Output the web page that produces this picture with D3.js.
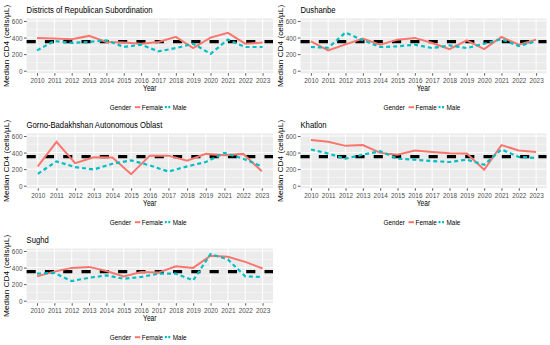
<!DOCTYPE html>
<html>
<head>
<style>
  body { margin: 0; background: #fff; }
  svg { display: block; font-family: "Liberation Sans", Arial, sans-serif; }
  .tick text { fill: #4d4d4d; font-size: 8px; }
  .tick line { stroke: #333; stroke-width: 0.8; }
  .title { font-size: 9.6px; fill: #000; }
  .axis-title { font-size: 8.3px; fill: #000; }
  .legend-text { font-size: 8px; fill: #000; }
</style>
<script src="https://d3js.org/d3.v7.min.js"></script>
</head>
<body>
<svg width="550" height="345"></svg>
<script>
var years = ["2010", "2011", "2012", "2013", "2014", "2015", "2016", "2017", "2018", "2019", "2020", "2021", "2022", "2023"];
var yearsGbao = ["2010", "2011", "2012", "2013", "2014", "2015", "2016", "2017", "2018", "2019", "2021", "2022", "2023"];
var yTicks = [0, 200, 400, 600];
var yMinor = [100, 300, 500];
var threshold = 350;

var drsFemale = [396, 388, 380, 420, 347, 339, 326, 347, 408, 273, 400, 457, 326, 339];
var drsMale = [245, 359, 335, 347, 367, 286, 314, 233, 273, 326, 204, 375, 286, 286];
var dushFemale = [355, 245, 318, 388, 314, 375, 396, 335, 261, 367, 261, 408, 314, 375];
var dushMale = [286, 277, 461, 367, 286, 294, 314, 273, 306, 273, 326, 380, 298, 355];
var gbaoFemale = [233, 530, 273, 343, 339, 139, 363, 363, 302, 384, 367, 384, 175];
var gbaoMale = [143, 294, 224, 196, 265, 306, 245, 171, 233, 286, 396, 326, 233];
var khatFemale = [551, 530, 481, 490, 396, 375, 424, 408, 392, 388, 192, 490, 424, 408];
var khatMale = [437, 388, 326, 375, 416, 326, 314, 298, 286, 314, 253, 437, 347, 335];
var sughFemale = [294, 351, 396, 408, 359, 294, 347, 339, 416, 396, 543, 530, 469, 388];
var sughMale = [326, 335, 237, 277, 306, 265, 286, 326, 326, 245, 563, 498, 294, 286];

var panels = [
    { title: "Districts of Republican Subordination", years: years, female: drsFemale, male: drsMale },
    { title: "Dushanbe", years: years, female: dushFemale, male: dushMale },
    { title: "Gorno-Badakhshan Autonomous Oblast", years: yearsGbao, female: gbaoFemale, male: gbaoMale },
    { title: "Khatlon", years: years, female: khatFemale, male: khatMale },
    { title: "Sughd", years: years, female: sughFemale, male: sughMale }
];

var femaleColor = "#F8766D", maleColor = "#00BFC4";
var svg = d3.select("svg"),
    sx = 0.8,
    cols = [[26.6, 273], [300.5, 546.5]],
    rowStep = 115

// narrow text like the original picture
function squash(x, y) {
    return "translate(" + x + "," + y + ") scale(" + sx + ",1)";
}

panels.forEach(function (p, i) {
    var col = i % 2, row = Math.floor(i / 2);
    var left = cols[col][0], right = cols[col][1];
    var top = 18.5 + row * rowStep, bottom = 73.2 + row * rowStep;
    var cx = (left + right) / 2;

    var x = d3.scalePoint().domain(p.years).range([left, right]).padding(0.6);
    var y = d3.scaleLinear().domain([-30, 630]).range([bottom, top]);

    var g = svg.append("g");

    g.append("rect")
        .attr("x", left).attr("y", top)
        .attr("width", right - left).attr("height", bottom - top)
        .attr("fill", "#ebebeb");

    g.selectAll(".minor").data(yMinor).enter().append("line")
        .attr("x1", left).attr("x2", right)
        .attr("y1", function (d) { return y(d); })
        .attr("y2", function (d) { return y(d); })
        .attr("stroke", "#fff").attr("stroke-width", 0.5);

    g.selectAll(".major").data(yTicks).enter().append("line")
        .attr("x1", left).attr("x2", right)
        .attr("y1", function (d) { return y(d); })
        .attr("y2", function (d) { return y(d); })
        .attr("stroke", "#fff").attr("stroke-width", 1);

    g.selectAll(".vgrid").data(p.years).enter().append("line")
        .attr("x1", function (d) { return x(d); })
        .attr("x2", function (d) { return x(d); })
        .attr("y1", top).attr("y2", bottom)
        .attr("stroke", "#fff").attr("stroke-width", 1);

    g.append("line")
        .attr("x1", left).attr("x2", right)
        .attr("y1", y(threshold)).attr("y2", y(threshold))
        .attr("stroke", "#000").attr("stroke-width", 3.3)
        .attr("stroke-dasharray", "9.15,9.15");

    var line = d3.line()
        .x(function (d, j) { return x(p.years[j]); })
        .y(function (d) { return y(d); });

    g.append("path").datum(p.female)
        .attr("d", line)
        .attr("fill", "none")
        .attr("stroke", femaleColor).attr("stroke-width", 2);

    g.append("path").datum(p.male)
        .attr("d", line)
        .attr("fill", "none")
        .attr("stroke", maleColor).attr("stroke-width", 2.2)
        .attr("stroke-dasharray", "4,3");

    var xAxis = g.append("g")
        .attr("transform", "translate(0," + bottom + ")")
        .call(d3.axisBottom(x).tickSize(2.5).tickPadding(1.3));
    xAxis.select(".domain").remove();
    xAxis.selectAll("text").attr("font-size", null).attr("font-family", null)
        .attr("transform", "scale(" + sx + ",1)");

    var yAxis = g.append("g")
        .attr("transform", "translate(" + left + ",0)")
        .call(d3.axisLeft(y).tickValues(yTicks).tickSize(2.6).tickPadding(1.5));
    yAxis.select(".domain").remove();
    yAxis.selectAll("text").attr("font-size", null).attr("font-family", null)
        .attr("x", -4.1 / sx)
        .attr("transform", "scale(" + sx + ",1)");

    g.append("text").attr("class", "title")
        .attr("transform", squash(left, top - 6))
        .text(p.title);

    g.append("text").attr("class", "axis-title")
        .attr("text-anchor", "middle")
        .attr("transform", squash(cx, bottom + 18))
        .text("Year");

    g.append("text").attr("class", "axis-title")
        .attr("text-anchor", "middle")
        .attr("transform", "translate(" + (left - 17.5) + "," + ((top + bottom) / 2) + ") rotate(-90) scale(1," + sx + ")")
        .text("Median CD4 (cells/\u00b5L)");

    // legend
    var ly = bottom + 34;
    g.append("text").attr("class", "legend-text")
        .attr("transform", squash(cx - 40, ly + 2.8))
        .text("Gender");
    g.append("line")
        .attr("x1", cx - 15).attr("x2", cx - 9.5)
        .attr("y1", ly).attr("y2", ly)
        .attr("stroke", femaleColor).attr("stroke-width", 2);
    g.append("text").attr("class", "legend-text")
        .attr("transform", squash(cx - 8, ly + 2.8))
        .text("Female");
    g.append("line")
        .attr("x1", cx + 15).attr("x2", cx + 20.5)
        .attr("y1", ly).attr("y2", ly)
        .attr("stroke", maleColor).attr("stroke-width", 2.2)
        .attr("stroke-dasharray", "2,1.5");
    g.append("text").attr("class", "legend-text")
        .attr("transform", squash(cx + 23, ly + 2.8))
        .text("Male");
});
</script>
</body>
</html>
